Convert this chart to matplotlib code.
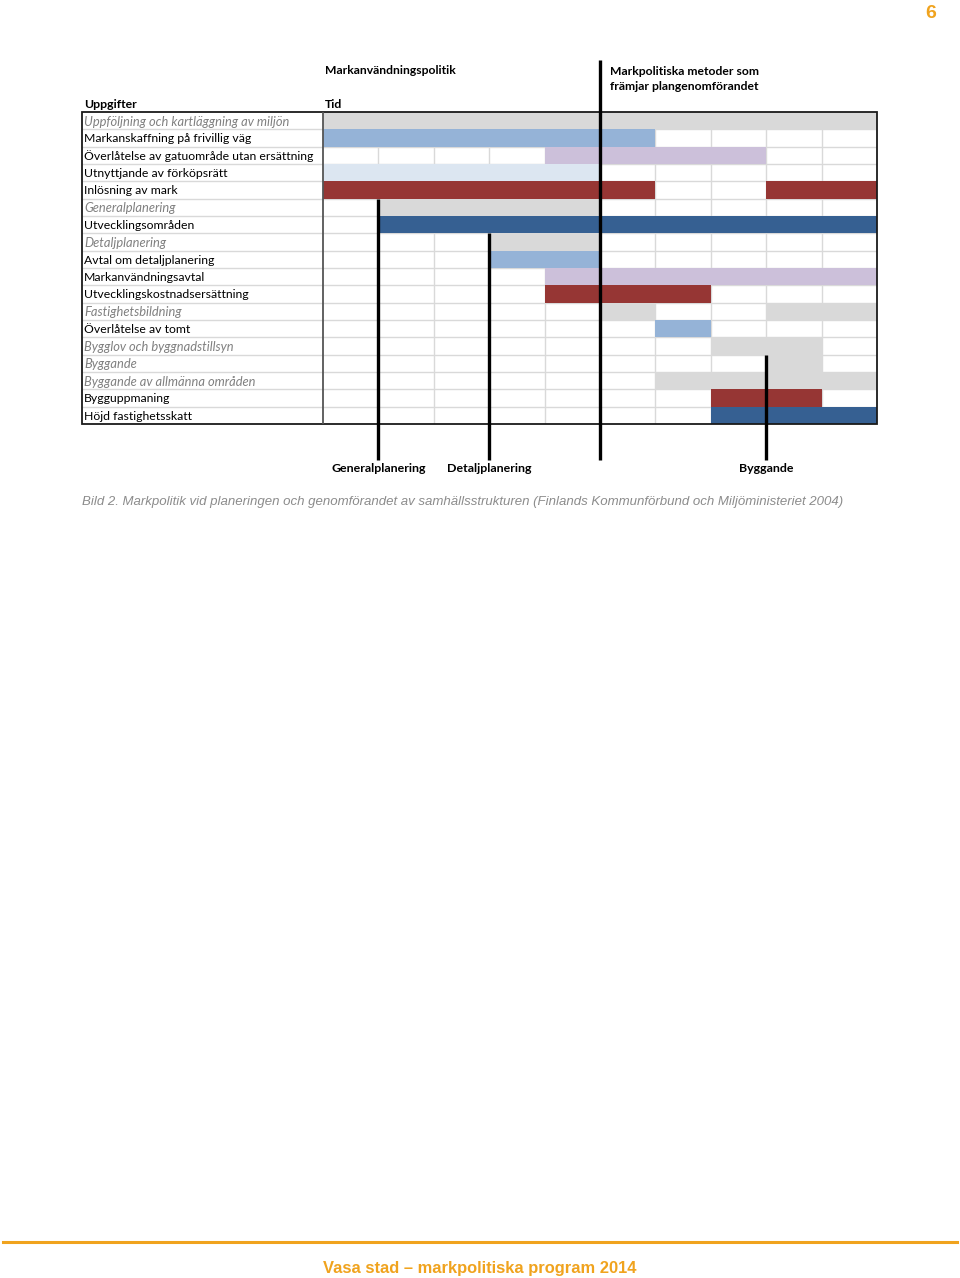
import matplotlib
matplotlib.use("Agg")
import matplotlib.pyplot as plt
from matplotlib.lines import Line2D
from matplotlib.patches import Rectangle

# ---------------- data ----------------
tasks = [
    "Uppföljning och kartläggning av miljön",
    "Markanskaffning på frivillig väg",
    "Överlåtelse av gatuområde utan ersättning",
    "Utnyttjande av förköpsrätt",
    "Inlösning av mark",
    "Generalplanering",
    "Utvecklingsområden",
    "Detaljplanering",
    "Avtal om detaljplanering",
    "Markanvändningsavtal",
    "Utvecklingskostnadsersättning",
    "Fastighetsbildning",
    "Överlåtelse av tomt",
    "Bygglov och byggnadstillsyn",
    "Byggande",
    "Byggande av allmänna områden",
    "Bygguppmaning",
    "Höjd fastighetsskatt",
]
# phases (shown italic grey) vs. methods
task_is_phase = [True, False, False, False, False, True, False, True, False,
                 False, False, True, False, True, True, True, False, False]

# time spans per task: (start column, end column, colour category)
task_spans = [
    [(0, 10, "grey")],
    [(0, 6, "lightblue")],
    [(4, 8, "lavender")],
    [(0, 5, "paleblue")],
    [(0, 6, "darkred"), (8, 10, "darkred")],
    [(1, 5, "grey")],
    [(1, 10, "darkblue")],
    [(3, 5, "grey")],
    [(3, 5, "lightblue")],
    [(4, 10, "lavender")],
    [(4, 7, "darkred")],
    [(5, 6, "grey"), (8, 10, "grey")],
    [(6, 7, "lightblue")],
    [(7, 9, "grey")],
    [(8, 9, "grey")],
    [(6, 10, "grey")],
    [(7, 9, "darkred")],
    [(7, 10, "darkblue")],
]
n_cols = 10

milestone_names = ["Generalplanering", "Detaljplanering", "", "Byggande"]
milestone_cols = [1, 3, 5, 8]
milestone_start_rows = [5, 7, -3.0, 14]

header_left = "Uppgifter"
header_time = "Tid"
header_policy = "Markanvändningspolitik"
header_methods = "Markpolitiska metoder som\nfrämjar plangenomförandet"
caption = ("Bild 2. Markpolitik vid planeringen och genomförandet av samhällsstrukturen "
           "(Finlands Kommunförbund och Miljöministeriet 2004)")
footer = "Vasa stad – markpolitiska program 2014"
page_no = "6"

# ---------------- style ----------------
palette = {
    "grey": "#d9d9d9",
    "lightblue": "#95b3d7",
    "lavender": "#ccc0da",
    "paleblue": "#dce6f1",
    "darkred": "#963634",
    "darkblue": "#366092",
}
FONT = ["Lato", "DejaVu Sans"]
NARROW = ["Liberation Sans Narrow", "Liberation Sans", "DejaVu Sans"]
ORANGE = "#f0a31e"

W, H = 960, 1278
fig = plt.figure(figsize=(W / 100, H / 100), dpi=100)

left_px, right_px, top_px, bot_px = 82, 877, 112, 424
ax = fig.add_axes([left_px / W, 1 - bot_px / H, (right_px - left_px) / W, (bot_px - top_px) / H])
label_w = (323 - left_px) / ((877 - 323) / n_cols)  # label column width in column units
n_rows = len(tasks)
ax.set_xlim(-label_w, n_cols)
ax.set_ylim(n_rows, 0)
ax.axis("off")

row_px = (bot_px - top_px) / n_rows
def py(y_px):
    return (y_px - top_px) / row_px
col_px = (877 - 323) / n_cols
def px(x_px):
    return (x_px - 323) / col_px

# grid lines
ax.hlines(range(1, n_rows), -label_w, n_cols, color="#d9d9d9", lw=1.0, zorder=1)
ax.vlines(range(1, n_cols), 0, n_rows, color="#d9d9d9", lw=1.0, zorder=1)

# bars
for r, spans in enumerate(task_spans):
    for s, e, c in spans:
        ax.barh(r + 0.5, e - s, left=s, height=1.0, color=palette[c], lw=0, zorder=2)

# borders
ax.add_patch(Rectangle((-label_w, 0), label_w + n_cols, n_rows, fill=False,
                       ec="#1a1a1a", lw=1.3, zorder=4, clip_on=False))
ax.vlines([0], 0, n_rows, color="#555555", lw=1.3, zorder=4)

# task labels
for r, (t, ph) in enumerate(zip(tasks, task_is_phase)):
    ax.text(px(84), r + 0.55, t, va="center", ha="left",
            fontsize=9.3 if ph else 8.8, family=FONT,
            color="#808080" if ph else "#000000",
            style="italic" if ph else "normal", zorder=5)

# milestone lines and labels
y_bottom = py(460)
for name, c, r0 in zip(milestone_names, milestone_cols, milestone_start_rows):
    ax.vlines(c, r0, y_bottom, color="black", lw=2.4, zorder=6, clip_on=False)
    if name:
        ax.text(c, py(469), name, ha="center", va="center", fontsize=8.9,
                fontweight="bold", family=FONT, clip_on=False)

# headers
ax.text(px(84), py(105), header_left, ha="left", va="center",
        fontsize=8.8, fontweight="bold", family=FONT, clip_on=False)
ax.text(px(325), py(105), header_time, ha="left", va="center",
        fontsize=8.8, fontweight="bold", family=FONT, clip_on=False)
ax.text(px(325), py(70), header_policy, ha="left", va="center",
        fontsize=8.75, fontweight="bold", family=FONT, clip_on=False)
ax.text(px(610), py(79), header_methods, ha="left", va="center",
        fontsize=8.7, fontweight="bold", family=FONT, linespacing=1.55, clip_on=False)

# caption
fig.text(82 / W, 1 - 502 / H, caption, ha="left", va="center", fontsize=9.5,
         style="italic", color="#8c8c8c", family=NARROW)

# footer
fig.add_artist(Line2D([3 / W, 957 / W], [1 - 1242 / H] * 2, color=ORANGE, lw=2.2))
fig.text(480 / W, 1 - 1268 / H, footer, ha="center", va="center", fontsize=11.9,
         fontweight="bold", color=ORANGE, family=NARROW)
fig.text(931 / W, 1 - 13 / H, page_no, ha="center", va="center", fontsize=14,
         fontweight="bold", color=ORANGE, family=NARROW)

fig.savefig("out.png", dpi=100, facecolor="white")
